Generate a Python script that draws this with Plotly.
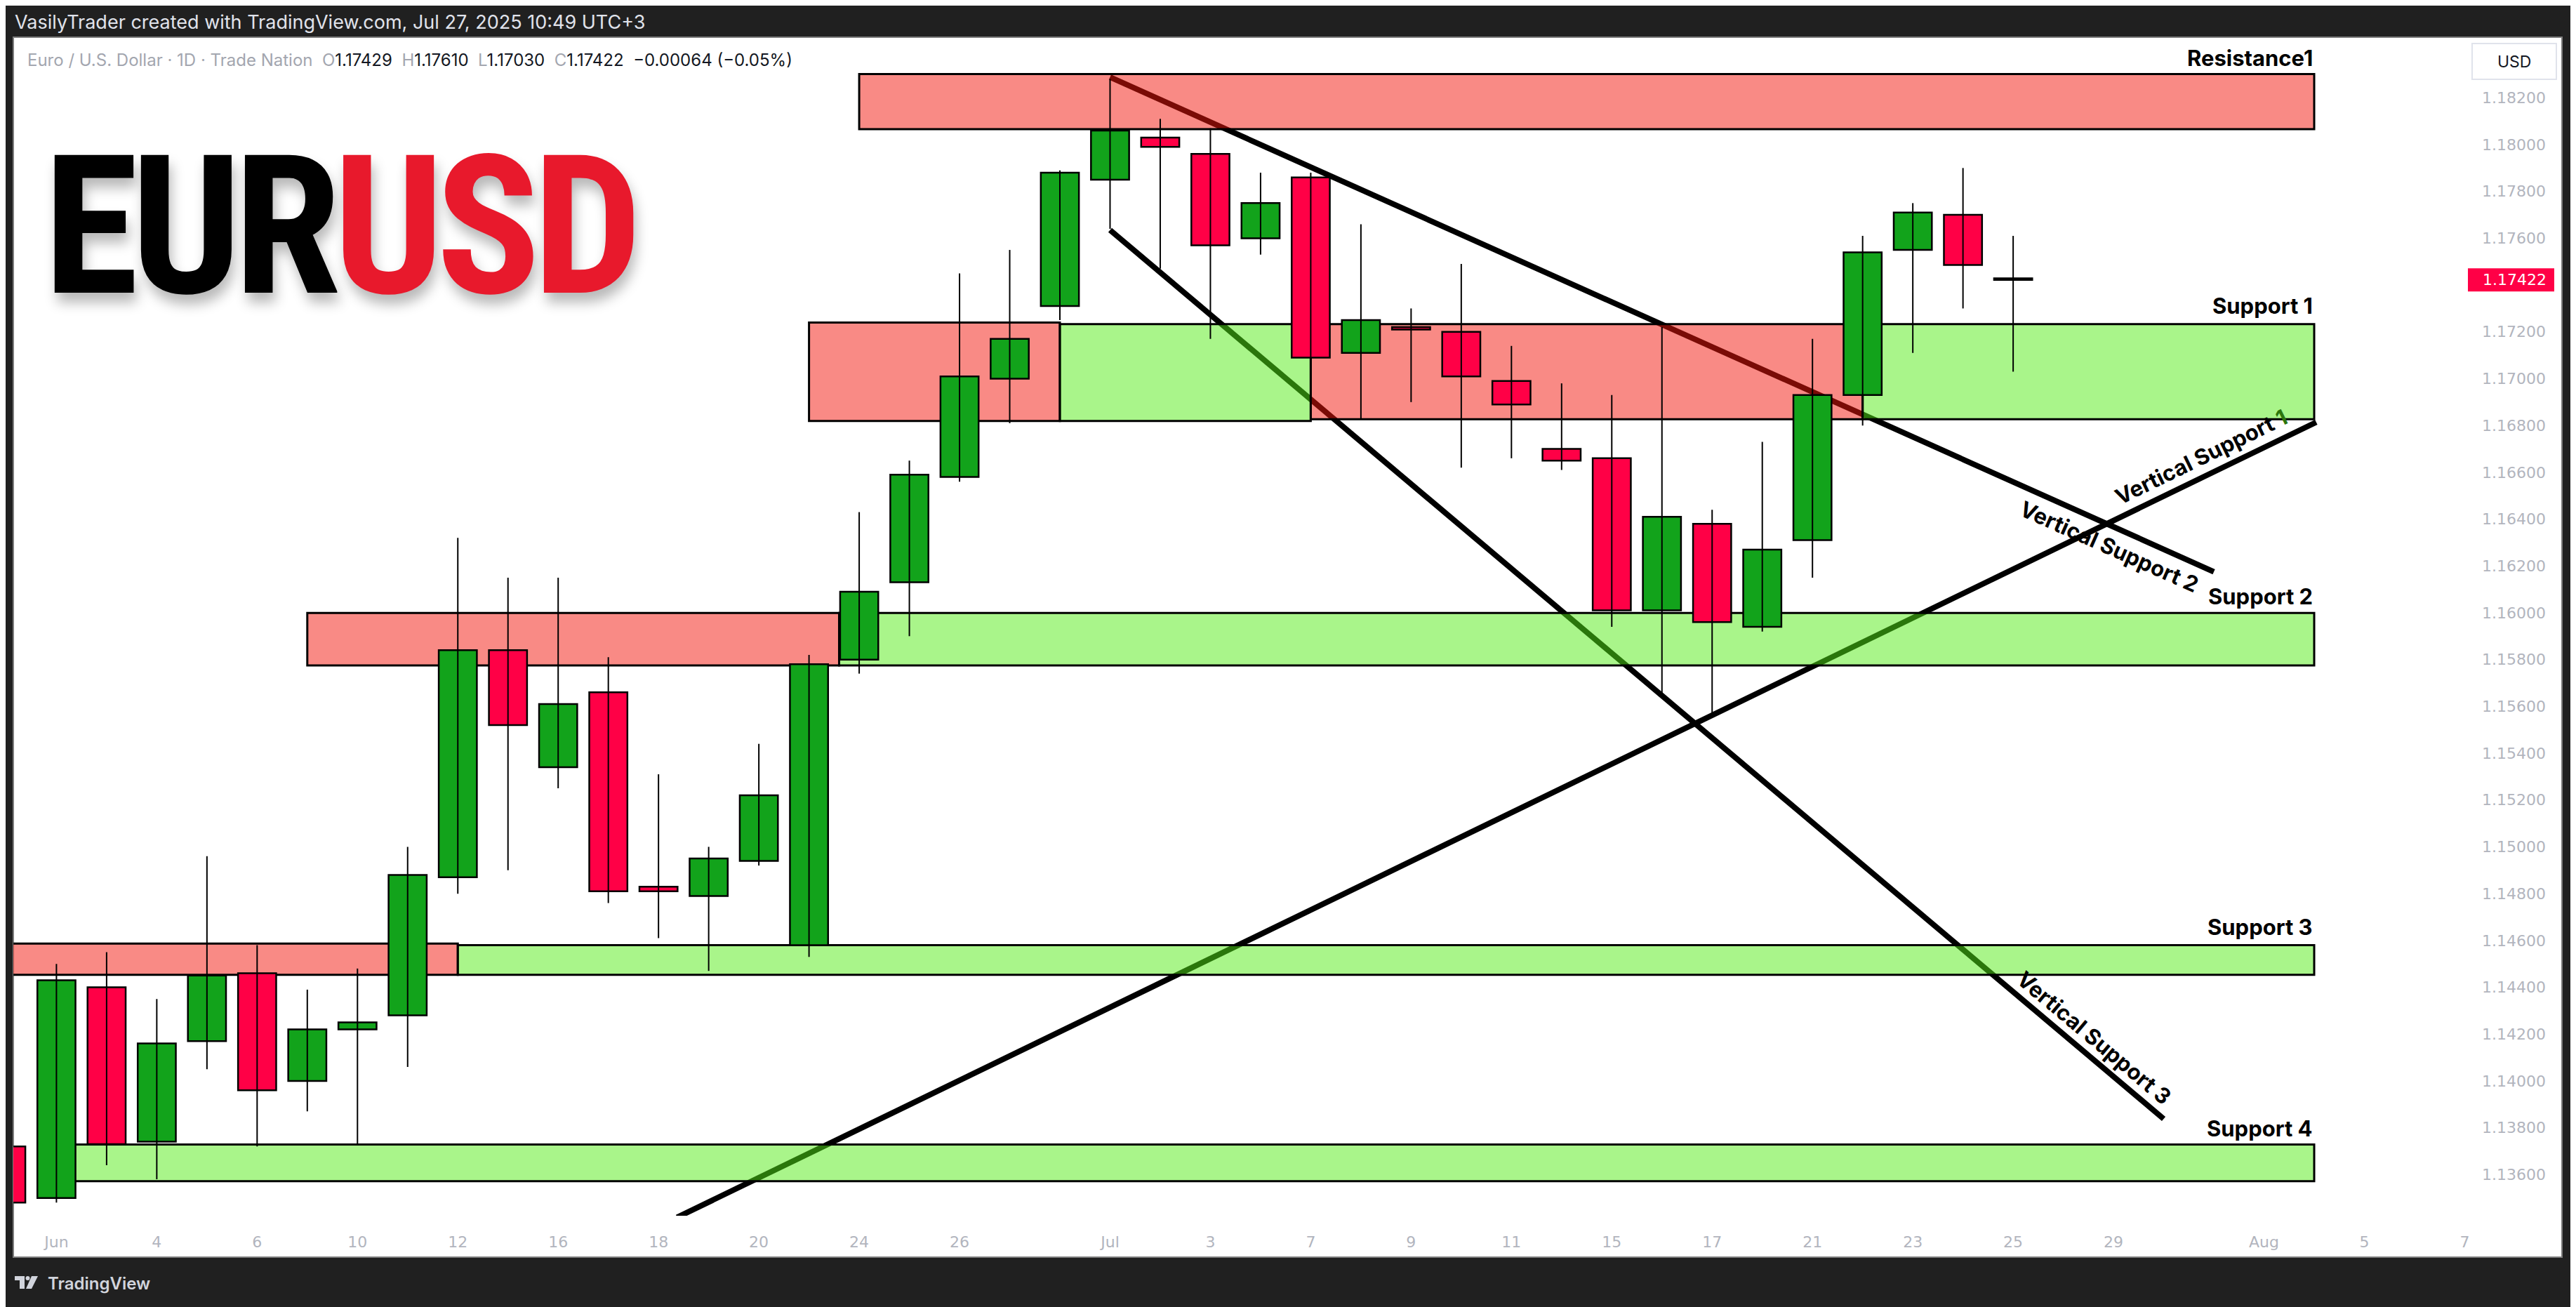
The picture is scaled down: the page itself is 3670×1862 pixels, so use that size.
import plotly.graph_objects as go

# ---------------- data ----------------
# trading-day index: -1 = May 30, 0 = Jun 2 ... 39 = Jul 25 (2025)
candle_idx = list(range(-1, 40))
opens = [1.1372, 1.1350, 1.1440, 1.1374, 1.1417, 1.1446, 1.1400, 1.1422, 1.1428, 1.1487,
         1.1584, 1.1534, 1.1566, 1.1483, 1.1479, 1.1494, 1.1458, 1.1580, 1.1613, 1.1658,
         1.1700, 1.1731, 1.1785, 1.1803, 1.1796, 1.1760, 1.1786, 1.1711, 1.1722, 1.1720,
         1.1699, 1.1670, 1.1666, 1.1601, 1.1638, 1.1594, 1.1631, 1.1693, 1.1755, 1.1770,
         1.17429]
highs = [1.1374, 1.1450, 1.1455, 1.1435, 1.1496, 1.1458, 1.1439, 1.1448, 1.1500, 1.1632,
         1.1615, 1.1615, 1.1581, 1.1531, 1.1500, 1.1544, 1.1582, 1.1643, 1.1665, 1.1745,
         1.1755, 1.1789, 1.1828, 1.1811, 1.1807, 1.1788, 1.1788, 1.1766, 1.1730, 1.1749,
         1.1714, 1.1698, 1.1693, 1.1722, 1.1644, 1.1673, 1.1717, 1.1761, 1.1775, 1.1790,
         1.17610]
lows = [1.1347, 1.1348, 1.1364, 1.1358, 1.1405, 1.1372, 1.1387, 1.1373, 1.1406, 1.1480,
        1.1490, 1.1525, 1.1476, 1.1461, 1.1447, 1.1492, 1.1453, 1.1574, 1.1590, 1.1656,
        1.1681, 1.1725, 1.1764, 1.1747, 1.1717, 1.1753, 1.1708, 1.1683, 1.1690, 1.1662,
        1.1666, 1.1661, 1.1594, 1.1564, 1.1556, 1.1592, 1.1615, 1.1680, 1.1711, 1.1730,
        1.17030]
closes = [1.1348, 1.1443, 1.1373, 1.1416, 1.1445, 1.1396, 1.1422, 1.1425, 1.1488, 1.1584,
          1.1552, 1.1561, 1.1481, 1.1481, 1.1495, 1.1522, 1.1578, 1.1609, 1.1659, 1.1701,
          1.1717, 1.1788, 1.1806, 1.1799, 1.1757, 1.1775, 1.1709, 1.1725, 1.1721, 1.1701,
          1.1689, 1.1665, 1.1601, 1.1641, 1.1596, 1.1627, 1.1693, 1.1754, 1.1771, 1.17486,
          1.17422]

# time-axis labels (trading-day index -> label)
tick_idx = [0, 2, 4, 6, 8, 10, 12, 14, 16, 18, 21, 23, 25, 27, 29, 31, 33, 35, 37, 39, 41, 44, 46, 48]
tick_txt = ["Jun", "4", "6", "10", "12", "16", "18", "20", "24", "26", "Jul", "3", "7", "9",
            "11", "15", "17", "21", "23", "25", "29", "Aug", "5", "7"]

price_ticks = [1.182, 1.180, 1.178, 1.176, 1.172, 1.170, 1.168, 1.166, 1.164, 1.162, 1.160,
               1.158, 1.156, 1.154, 1.152, 1.150, 1.148, 1.146, 1.144, 1.142, 1.140, 1.138, 1.136]

# zones: (name, x_start_idx, x_end_idx, price_low, price_high, kind)
zones = [
    ("Resistance1", 16, 45, 1.18066, 1.18301, "red"),
    ("Support 1 a", 15, 20, 1.16819, 1.17240, "red"),
    ("Support 1 b", 20, 25, 1.16819, 1.17233, "green"),
    ("Support 1 c", 25, 36, 1.16827, 1.17233, "red"),
    ("Support 1 d", 36, 45, 1.16827, 1.17233, "green"),
    ("Support 2 a", 5, 15.6, 1.15775, 1.15999, "red"),
    ("Support 2 b", 15.6, 45, 1.15775, 1.15999, "green"),
    ("Support 3 a", -3, 8, 1.14453, 1.14587, "red"),
    ("Support 3 b", 8, 45, 1.14453, 1.14580, "green"),
    ("Support 4", 0, 45, 1.13572, 1.13728, "green"),
]

# trend lines: (x0, y0, x1, y1)
trend_lines = [
    (21.0, 1.18288, 43.0, 1.16175),   # Vertical Support 2
    (21.0, 1.17635, 42.0, 1.13838),   # Vertical Support 3
    (12.37, 1.13417, 45.04, 1.16814), # Vertical Support 1
]

zone_labels = [("Resistance1", 45, 1.18301), ("Support 1", 45, 1.17240), ("Support 2", 45, 1.15999),
               ("Support 3", 45, 1.14587), ("Support 4", 45, 1.13728)]
line_labels = [("Vertical Support <span style='color:#2c760c'>1</span>", 42.75, 1.16666, -26),
               ("Vertical Support 2", 40.92, 1.16282, 24),
               ("Vertical Support 3", 40.62, 1.14183, 40)]

# ---------------- layout geometry ----------------
W, H = 3670, 1862
OFF = 8                       # page body margin of the html page
PW, PH = 3496, 1679           # chart pane size
ML, MT = 19 - OFF, 53 - OFF
MR, MB = W - ML - PW, H - MT - PH


def fx(px):
    return (px - 19) / PW


def fy(py):
    return (1732 - py) / PH


GREEN = "#12a31b"
RED = "#ff0046"
ZRED = "rgba(243,21,11,0.5)"
ZGREEN = "rgba(83,235,21,0.5)"

fig = go.Figure()

# wicks
wx, wy = [], []
for i, h, l in zip(candle_idx, highs, lows):
    wx += [i, i, None]
    wy += [l, h, None]
fig.add_trace(go.Scatter(x=wx, y=wy, mode="lines", line=dict(color="black", width=2),
                         hoverinfo="skip", showlegend=False))

# bodies
base = [min(o, c) for o, c in zip(opens, closes)]
hgt = [max(abs(c - o), 0.00004) for o, c in zip(opens, closes)]
cols = [GREEN if c >= o else RED for o, c in zip(opens, closes)]
fig.add_trace(go.Bar(x=candle_idx, y=hgt, base=base, width=0.76,
                     marker=dict(color=cols, line=dict(color="black", width=2.5)),
                     hoverinfo="skip", showlegend=False))

shapes = []
# white chart background (pane + scales)
shapes.append(dict(type="rect", xref="paper", yref="paper", x0=fx(19), x1=fx(3650), y0=fy(1791), y1=fy(53),
                   fillcolor="white", line=dict(color="#7d7d7d", width=2), layer="below"))
# trend lines (under zones)
for x0, y0, x1, y1 in trend_lines:
    shapes.append(dict(type="line", xref="x", yref="y", x0=x0, y0=y0, x1=x1, y1=y1,
                       line=dict(color="black", width=8), layer="below"))
# zones
for name, xa, xb, pl, ph, kind in zones:
    shapes.append(dict(type="rect", xref="x", yref="y", x0=xa, x1=xb, y0=pl, y1=ph,
                       fillcolor=ZRED if kind == "red" else ZGREEN,
                       line=dict(color="black", width=3), layer="below"))
# USD button
shapes.append(dict(type="rect", xref="paper", yref="paper", x0=fx(3522), x1=fx(3642), y0=fy(113), y1=fy(62),
                   fillcolor="white", line=dict(color="#e0e3eb", width=2)))
# last price label
last = closes[-1]
shapes.append(dict(type="rect", xref="paper", yref="y", x0=fx(3516), x1=fx(3639), y0=last - 0.000495,
                   y1=last + 0.000495, fillcolor=RED, line=dict(width=0)))
# TradingView logo mark
shapes.append(dict(type="path", xref="paper", yref="paper",
                   path="M {a},{b} L {c},{b} L {c},{d} L {e},{d} L {e},{f} L {a},{f} Z".format(
                       a=fx(21), b=fy(1818), c=fx(35), d=fy(1836), e=fx(28), f=fy(1824)),
                   fillcolor="#d1d4dc", line=dict(width=0)))
shapes.append(dict(type="circle", xref="paper", yref="paper", x0=fx(36.5), x1=fx(42.5), y0=fy(1824), y1=fy(1818),
                   fillcolor="#d1d4dc", line=dict(width=0)))
shapes.append(dict(type="path", xref="paper", yref="paper",
                   path="M {a},{b} L {c},{b} L {d},{e} L {f},{e} Z".format(
                       a=fx(45), b=fy(1818), c=fx(54), d=fx(45), e=fy(1836), f=fx(37)),
                   fillcolor="#d1d4dc", line=dict(width=0)))

ann = []
UI = "Inter, Roboto, sans-serif"
# logo
ann.append(dict(xref="paper", yref="paper", x=fx(60), y=fy(323), xanchor="left", yanchor="middle",
                text="<span style='letter-spacing:-11px'>EUR<span style='color:#e8192c'>USD</span></span>",
                showarrow=False,
                font=dict(family="Roboto Condensed, Noto Sans ExtraCondensed, Liberation Sans Narrow, "
                                 "DejaVu Sans Condensed, sans-serif",
                          size=276, color="#000000", weight=700,
                          shadow="4px 14px 18px rgba(0,0,0,0.28)")))
# zone labels
for t, x, y in zone_labels:
    ann.append(dict(x=x, y=y, xref="x", yref="y", xanchor="right", yanchor="bottom", yshift=3, text=t,
                    showarrow=False, font=dict(family=UI, size=31, color="#000", weight=700)))
for t, x, y, ang in line_labels:
    ann.append(dict(x=x, y=y, xref="x", yref="y", xanchor="center", yanchor="middle", text=t, textangle=ang,
                    showarrow=False, font=dict(family=UI, size=31, color="#000", weight=700)))
# header
ann.append(dict(xref="paper", yref="paper", x=fx(19), y=fy(32), xanchor="left", yanchor="middle",
                text="VasilyTrader created with TradingView.com, Jul 27, 2025 10:49 UTC+3", showarrow=False,
                font=dict(family=UI, size=27, color="#e0e3eb")))
chg = closes[-1] - closes[-2]
pct = chg / closes[-2] * 100


def val(s):
    return "<span style='color:#131722'>" + s + "</span>"


sym = ("Euro / U.S. Dollar · 1D · Trade Nation&nbsp;&nbsp;O" + val("%.5f" % opens[-1]) +
       "&nbsp;&nbsp;H" + val("%.5f" % highs[-1]) + "&nbsp;&nbsp;L" + val("%.5f" % lows[-1]) +
       "&nbsp;&nbsp;C" + val("%.5f" % closes[-1]) + "&nbsp;&nbsp;" +
       val(("−%.5f (−%.2f%%)" % (abs(chg), abs(pct))) if chg < 0 else ("+%.5f (+%.2f%%)" % (chg, pct))))
ann.append(dict(xref="paper", yref="paper", x=fx(37), y=fy(85), xanchor="left", yanchor="middle",
                text=sym, showarrow=False, font=dict(family=UI, size=24, color="#a3a6af")))
# USD button text
ann.append(dict(xref="paper", yref="paper", x=fx(3582), y=fy(88), xanchor="center", yanchor="middle",
                text="USD", showarrow=False, font=dict(family=UI, size=23, color="#131722")))
# last price text
ann.append(dict(xref="paper", yref="y", x=fx(3535), y=last, xanchor="left", yanchor="middle",
                text="%.5f" % last, showarrow=False, font=dict(family="DejaVu Sans", size=22, color="white")))
# footer
ann.append(dict(xref="paper", yref="paper", x=fx(66), y=fy(1828), xanchor="left", yanchor="middle",
                text="TradingView", showarrow=False, font=dict(family=UI, size=24, color="#d1d4dc", weight=600)))

fig.update_layout(
    width=W, height=H, autosize=False,
    margin=dict(l=ML, r=MR, t=MT, b=MB, pad=0),
    paper_bgcolor="#202020", plot_bgcolor="white",
    barmode="overlay", showlegend=False,
    shapes=shapes, annotations=ann,
    xaxis=dict(range=[(19 - 80.4) / 71.48, (19 + PW - 80.4) / 71.48], tickvals=tick_idx, ticktext=tick_txt,
               showgrid=False, zeroline=False, showline=False, ticks="", ticklabelstandoff=22,
               tickfont=dict(family="DejaVu Sans", size=22, color="#b2b5be")),
    yaxis=dict(range=[1.182 - (1732 - 139.3) / 33348, 1.182 + (139.3 - 53) / 33348], side="right",
               tickvals=price_ticks, ticktext=["%.5f" % v for v in price_ticks],
               showgrid=False, zeroline=False, showline=False, ticks="", ticklabelstandoff=20,
               tickfont=dict(family="DejaVu Sans", size=22, color="#b2b5be")),
)

fig.write_html("out.html")
